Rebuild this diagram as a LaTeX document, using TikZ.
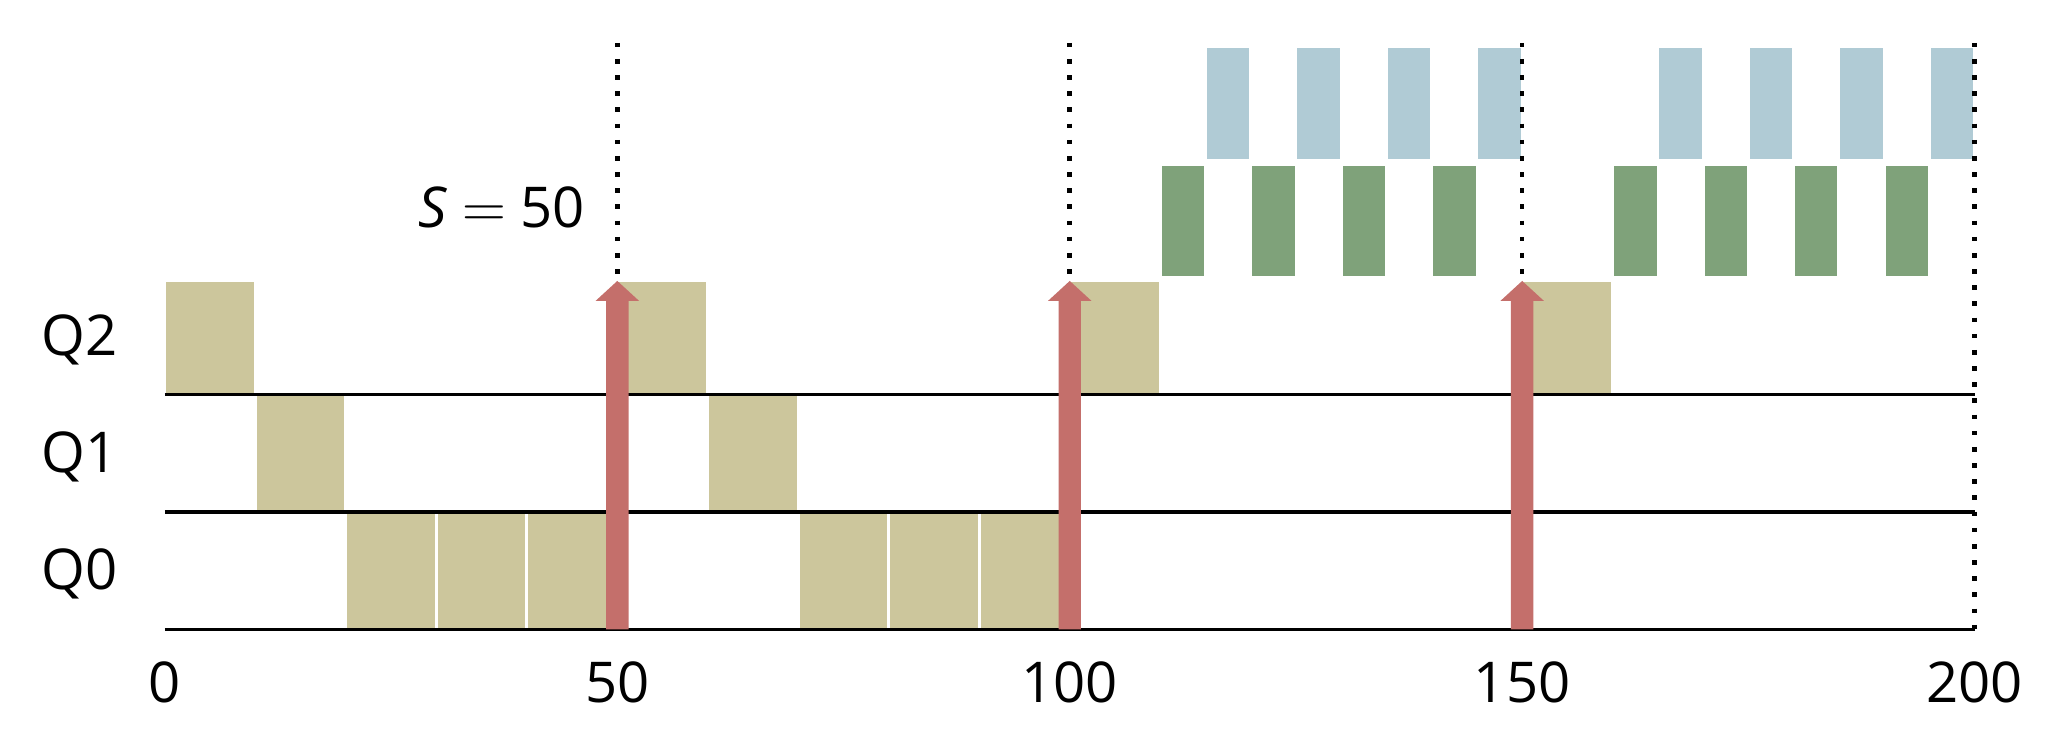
\documentclass[tikz,border=0pt]{standalone}
\usepackage{fontspec}
\setmainfont{Open Sans}
\definecolor{colTarea}{HTML}{CCC69C}
\definecolor{colVerde}{HTML}{7FA27A}
\definecolor{colAzul}{HTML}{B0CBD5}
\definecolor{colFlecha}{HTML}{C46F6B}
\tikzset{
  bloqueTarea/.style={fill=colTarea, draw=white, line width=0.8pt},
  bloqueVerde/.style={fill=colVerde, draw=white, line width=0.8pt},
  bloqueAzul/.style={fill=colAzul, draw=white, line width=0.8pt},
  lineaCola/.style={draw=black, line width=1pt},
  lineaPunteada/.style={draw=black, line width=1.3pt, dash pattern=on 1.3pt off 3.3pt},
  flechaBoost/.style={fill=colFlecha},
  etiquetaCola/.style={font=\fontsize{16}{19}\selectfont, inner sep=0pt, anchor=center},
  etiquetaEje/.style={etiquetaCola},
}
\begin{document}
\begin{tikzpicture}[x=0.09048cm, y=1.173cm]
  \useasboundingbox (-1.649cm,-1.227cm) rectangle (19.031cm,6.293cm);

  % bloques de las colas: cola/inicio/alto
  \foreach \q/\t/\h in {2/0/0.97, 1/10/1, 0/20/1, 0/30/1, 0/40/1, 2/50/0.97, 1/60/1,
                        0/70/1, 0/80/1, 0/90/1, 2/100/0.97, 2/150/0.97}
    \path[bloqueTarea] (\t,\q) rectangle ++(10,\h);

  % bloques verdes y azules
  \foreach \t in {110,120,130,140,160,170,180,190} {
    \path[bloqueVerde] (\t,3) rectangle ++(5,0.96);
    \path[bloqueAzul] (\t+5,4) rectangle ++(5,0.97);
  }

  % lineas de las colas
  \foreach \q in {0,1,2}
    \draw[lineaCola] (0,\q) -- (200,\q);

  % flechas de reinicio
  \foreach \t in {50,100,150}
    \fill[flechaBoost] (\t-1.24,0) -- (\t-1.24,2.80) -- (\t-2.4,2.80) -- (\t,2.97)
      -- (\t+2.4,2.80) -- (\t+1.24,2.80) -- (\t+1.24,0) -- cycle;

  % punteadas
  \foreach \t in {50,100,150}
    \draw[lineaPunteada] (\t,5) -- (\t,2.97);
  \draw[lineaPunteada] (200,5) -- (200,0);

  % etiquetas
  \foreach \q in {0,1,2}
    \node[etiquetaCola] (q\q) at (-9.4,\q+0.47) {Q\q};
  \foreach \t in {0,50,100,150,200}
    \node[etiquetaEje] (t\t) at (\t,-0.45) {\t};
  \node[etiquetaCola] (umbral) at (37.2,3.6) {\textit{S} $=$ 50};
\end{tikzpicture}
\end{document}
